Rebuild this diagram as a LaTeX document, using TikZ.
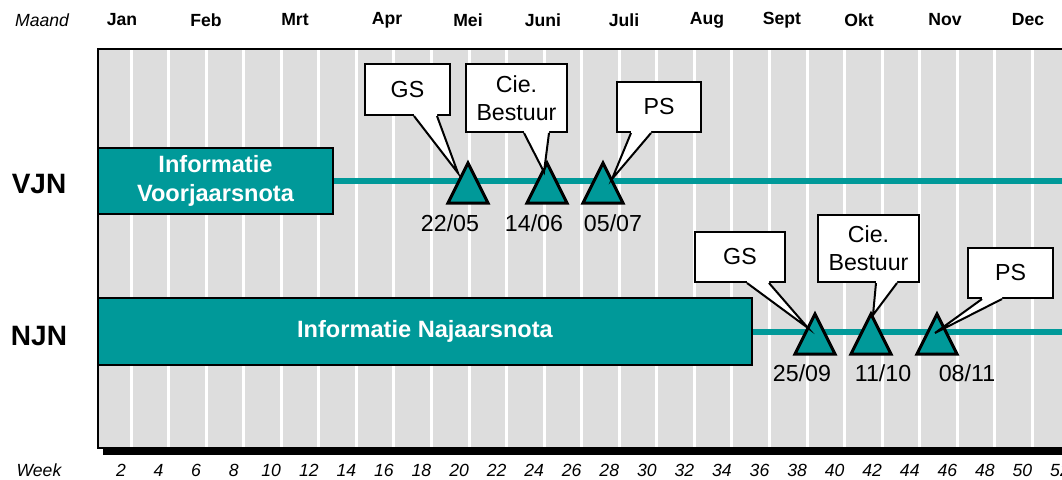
\documentclass[tikz,border=0pt]{standalone}
\usepackage{fontspec}
\setmainfont{Liberation Sans}
\usetikzlibrary{calc}

\definecolor{blauwgroen}{RGB}{0,153,153}
\definecolor{achtergrond}{RGB}{221,221,221}

\begin{document}
\begin{tikzpicture}[x=0.5pt, y=-0.5pt,
  maand/.style={font=\fontsize{8.8}{10}\selectfont\bfseries},
  weeknr/.style={font=\fontsize{8.8}{10}\selectfont\itshape},
  rij/.style={font=\fontsize{14}{16}\selectfont\bfseries},
  balk/.style={draw=black, line width=1pt, fill=blauwgroen, text=white, align=center,
    font=\fontsize{11.8}{14.5}\selectfont\bfseries, inner sep=0pt},
  lijn/.style={blauwgroen, line width=3.3pt},
  mijlpaal/.style={draw=black, line width=1.5pt, fill=blauwgroen, line join=miter},
  ballon/.style={draw=black, fill=white, line width=1pt, align=center,
    font=\fontsize{11.6}{14}\selectfont, inner sep=0pt},
  datum/.style={font=\fontsize{11.6}{14}\selectfont}]
  \useasboundingbox (0,0) rectangle (1062,479);
  % kader met schaduw
  \fill[black] (103,54) rectangle (1090,455);
  \draw[fill=achtergrond, line width=1pt] (98,49) rectangle (1085,448);
  \foreach \k in {0,...,24}
    \draw[white, line width=1.5pt] ({131+37.56*\k},50) -- ({131+37.56*\k},447);
  % maanden en weken
  \node[weeknr] (maand) at (42,20) {Maand};
  \foreach \m/\x in {Jan/122, Feb/206, Mrt/295, Apr/387, Mei/468, Juni/543,
      Juli/624, Aug/707, Sept/782, Okt/859, Nov/945, Dec/1028}
    \node[maand] (m-\m) at (\x,20) {\m};
  \node[weeknr] (week) at (39,470) {Week};
  \foreach \w [evaluate=\w as \x using 121+37.56*(\w/2-1)] in {2,4,...,52}
    \node[weeknr] (w\w) at (\x,470) {\w};
  % rijen
  \node[rij] (vjn-label) at (39,184) {VJN};
  \node[rij] (njn-label) at (39,336) {NJN};
  \coordinate (vjn-eind) at (1070,181);
  \coordinate (njn-eind) at (1070,332);
  \draw[lijn] (333,181) -- (vjn-eind);
  \draw[lijn] (752,332) -- (njn-eind);
  \node[balk, minimum width=117.5pt, minimum height=33pt] (vjn) at (215.5,181)
    {Informatie\\Voorjaarsnota};
  \node[balk, minimum width=327pt, minimum height=33.5pt] (njn) at (425,331.5)
    {Informatie Najaarsnota};
  % mijlpalen
  \foreach \n/\x/\y in {a/468/183, b/547/183, c/603/183, d/815/334, e/871/334, f/937/334} {
    \coordinate (t\n) at (\x,\y);
    \draw[mijlpaal] ($(t\n)+(-20,20)$) -- ($(t\n)+(0,-20)$) -- ($(t\n)+(20,20)$) -- cycle;
  }
  \foreach \n/\x/\y/\d in {a/450/223/{22/05}, b/534/223/{14/06}, c/613/223/{05/07},
      d/802/373/{25/09}, e/883/373/{11/10}, f/967/373/{08/11}}
    \node[datum] (d\n) at (\x,\y) {\d};
  % ballonnen
  \node[ballon, minimum width=42.5pt, minimum height=25.5pt] (gs1) at (407.5,89.5) {GS};
  \node[ballon, minimum width=50.5pt, minimum height=34pt] (cie1) at (516.5,98) {Cie.\\Bestuur};
  \node[ballon, minimum width=42pt, minimum height=25pt] (ps1) at (659,107) {PS};
  \node[ballon, minimum width=45pt, minimum height=25pt] (gs2) at (740,257) {GS};
  \node[ballon, minimum width=50.5pt, minimum height=33.5pt] (cie2) at (868.5,248.5) {Cie.\\Bestuur};
  \node[ballon, minimum width=42.5pt, minimum height=25pt] (ps2) at (1010.5,273) {PS};
  \foreach \id/\a/\b/\tx/\ty in {gs1/50/73/458/173, cie1/59/84/544/172, ps1/15/35/612/179,
      gs2/53/75/808/328, cie2/59/80/873/315, ps2/15/35/935/333} {
    \coordinate (\id-punt) at (\tx,\ty);
    \coordinate (\id-l) at ($(\id.south west)+(\a,0)$);
    \coordinate (\id-r) at ($(\id.south west)+(\b,0)$);
    \fill[white] ($(\id-l)+(0,-2.5)$) -- (\id-l) -- (\id-punt) -- (\id-r) -- ($(\id-r)+(0,-2.5)$) -- cycle;
    \draw[line width=1pt, line join=miter] (\id-l) -- (\id-punt) -- (\id-r);
  }
\end{tikzpicture}
\end{document}
